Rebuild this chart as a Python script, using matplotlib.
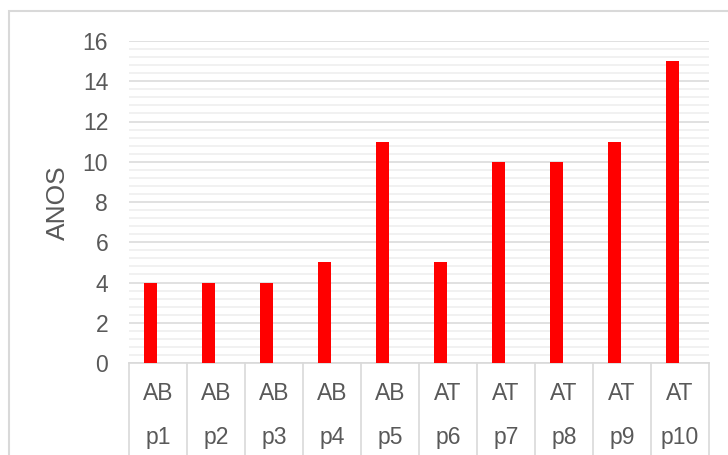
import matplotlib
matplotlib.use('Agg')
import matplotlib.pyplot as plt
from matplotlib.patches import Rectangle
from matplotlib.ticker import MultipleLocator
import matplotlib.transforms as mtransforms

# --- dados do gráfico
grupos = ['AB', 'AB', 'AB', 'AB', 'AB', 'AT', 'AT', 'AT', 'AT', 'AT']
pessoas = ['p1', 'p2', 'p3', 'p4', 'p5', 'p6', 'p7', 'p8', 'p9', 'p10']
anos = [4, 4, 4, 5, 11, 5, 10, 10, 11, 15]

plt.rcParams['font.family'] = ['Liberation Sans', 'DejaVu Sans']
TXT = '#595959'
GRID = '#d9d9d9'

W, H = 728, 455
fig = plt.figure(figsize=(W / 100, H / 100), dpi=100)
ax = fig.add_axes([129 / W, 1 - 363 / H, (709 - 129) / W, (363 - 41) / H])

x = list(range(len(anos)))
# --- barras deslocadas para a esquerda (como no Excel, com uma segunda série vazia)
ax.bar([i - 0.13 for i in x], anos, width=0.225, color='#ff0000', zorder=3)

ax.set_xlim(-0.5, len(anos) - 0.5)
ax.set_ylim(0, 16)
ax.yaxis.set_major_locator(MultipleLocator(2))
ax.yaxis.set_minor_locator(MultipleLocator(0.4))
ax.grid(which='major', axis='y', color=GRID, lw=1.1, zorder=0)
ax.grid(which='minor', axis='y', color='#eeeeee', lw=1.1, zorder=0)
ax.set_axisbelow(True)
for s in ax.spines.values():
    s.set_visible(False)
ax.spines['bottom'].set_visible(True)
ax.spines['bottom'].set_color(GRID)
ax.spines['bottom'].set_linewidth(1.2)
ax.tick_params(axis='y', which='both', length=0, pad=15, labelsize=16.5, labelcolor=TXT)
ax.set_xticks([])

# --- eixo de categorias em dois níveis
trans = mtransforms.blended_transform_factory(ax.transData, ax.transAxes)
for i in range(len(anos) + 1):
    ax.plot([i - 0.5, i - 0.5], [0, -0.3], transform=trans, color=GRID,
            lw=1.2, clip_on=False)
for i in range(len(anos)):
    ax.text(i, -0.115, grupos[i], transform=trans, ha='center', va='baseline',
            fontsize=16.5, color=TXT)
    ax.text(i, -0.252, pessoas[i], transform=trans, ha='center', va='baseline',
            fontsize=16.5, color=TXT)

fig.text(58 / W, 1 - 203 / H, 'ANOS', rotation=90, ha='center', va='center',
         fontsize=19, color=TXT)

# --- borda da área do gráfico
fig.patches.append(Rectangle((9 / W, -0.1), 1.2, 1 - 11 / H + 0.1,
                             transform=fig.transFigure, fill=False,
                             edgecolor=GRID, lw=1.5))

fig.savefig('out.png', dpi=100)
